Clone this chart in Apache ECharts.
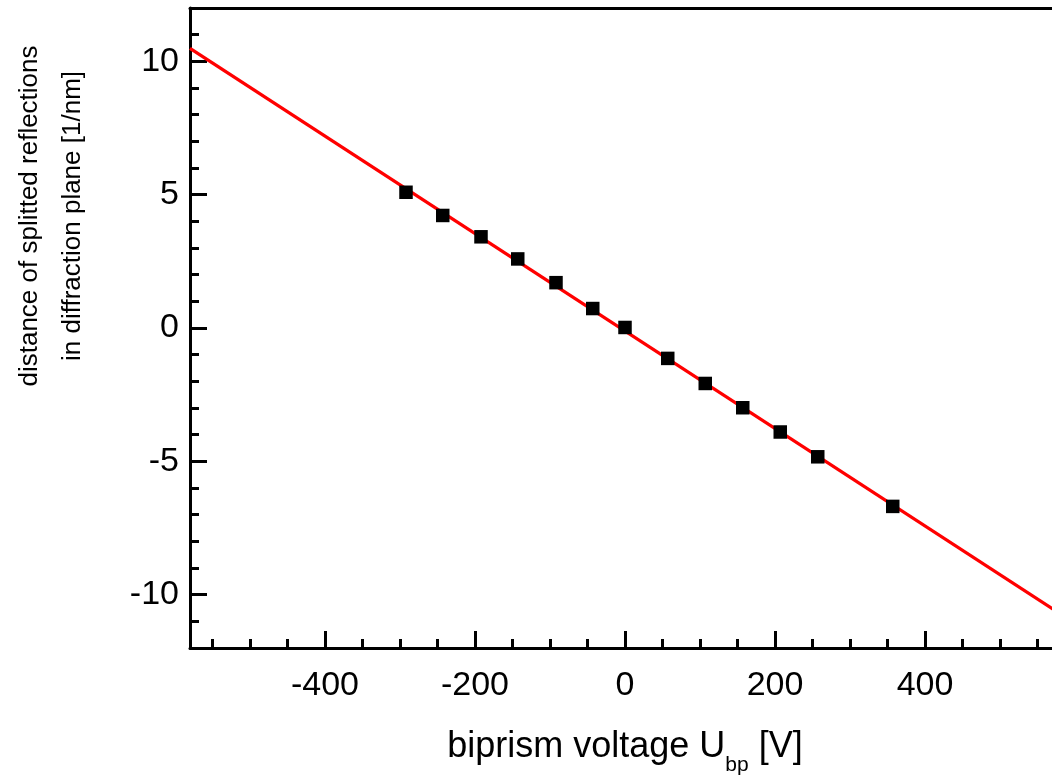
<!DOCTYPE html>
<html>
<head>
<meta charset="utf-8">
<script src="https://cdn.jsdelivr.net/npm/echarts@6/dist/echarts.min.js"></script>
<style>
html, body { margin: 0; padding: 0; background: #fff; overflow: hidden; }
#chart { width: 1060px; height: 778px; }
</style>
</head>
<body>
<div id="chart"></div>
<script>
// Measured data points
const voltage = [-292, -243, -192, -143, -92, -43, 0, 57, 107, 157, 207, 257, 357];
const distance = [5.09, 4.22, 3.42, 2.59, 1.70, 0.73, 0.02, -1.14, -2.08, -2.99, -3.90, -4.83, -6.69];
// Linear fit line endpoints
const fitX = [-580, 580];
const fitY = [10.49, -10.71];
// Ticks
const xMajorTicks = [-400, -200, 0, 200, 400];
const xMinorTicks = [-550, -500, -450, -350, -300, -250, -150, -100, -50, 50, 100, 150, 250, 300, 350, 450, 500, 550];
const yMajorTicks = [-10, -5, 0, 5, 10];
const yMinorTicks = [-11, -9, -8, -7, -6, -4, -3, -2, -1, 1, 2, 3, 4, 6, 7, 8, 9, 11];

const FONT = "'Liberation Sans', Arial, sans-serif";
const chart = echarts.init(document.getElementById('chart'), null, { renderer: 'canvas' });

const baseX = { type: 'value', min: -580, max: 580, gridIndex: 0, splitLine: { show: false } };
const baseY = { type: 'value', min: -12, max: 12, gridIndex: 0, splitLine: { show: false } };

chart.setOption({
  animation: false,
  backgroundColor: '#fff',
  grid: { left: 190, top: 8, right: 0, bottom: 130, containLabel: false, outerBoundsMode: 'none' },
  xAxis: [
    Object.assign({}, baseX, {
      position: 'bottom',
      name: '{m|biprism voltage U}{s|bp}{m| [V]}',
      nameLocation: 'middle',
      nameGap: 79,
      nameTextStyle: {
        rich: {
          m: { fontSize: 36, lineHeight: 40, fontFamily: FONT, color: '#000' },
          s: { fontSize: 21, lineHeight: 20, padding: [36, 0, 0, 0], fontFamily: FONT, color: '#000' }
        }
      },
      axisLine: { show: true, onZero: false, lineStyle: { color: '#000', width: 3 } },
      axisTick: { show: true, inside: true, length: 17, customValues: xMajorTicks, lineStyle: { color: '#000', width: 3 } },
      axisLabel: { show: true, customValues: xMajorTicks, fontSize: 34, fontFamily: FONT, color: '#000', margin: 21 }
    }),
    Object.assign({}, baseX, {
      position: 'bottom',
      axisLine: { show: false, onZero: false },
      axisTick: { show: true, inside: true, length: 9, customValues: xMinorTicks, lineStyle: { color: '#000', width: 3 } },
      axisLabel: { show: false }
    }),
    Object.assign({}, baseX, {
      position: 'top',
      axisLine: { show: true, onZero: false, lineStyle: { color: '#000', width: 3 } },
      axisTick: { show: false },
      axisLabel: { show: false }
    })
  ],
  yAxis: [
    Object.assign({}, baseY, {
      position: 'left',
      name: 'distance of splitted reflections\nin diffraction plane [1/nm]',
      nameLocation: 'middle',
      nameGap: 96,
      nameTextStyle: { fontSize: 26, lineHeight: 43, fontFamily: FONT, color: '#000', padding: [0, 0, 0, 224] },
      axisLine: { show: true, onZero: false, lineStyle: { color: '#000', width: 3 } },
      axisTick: { show: true, inside: true, length: 17, customValues: yMajorTicks, lineStyle: { color: '#000', width: 3 } },
      axisLabel: { show: true, customValues: yMajorTicks, fontSize: 34, fontFamily: FONT, color: '#000', margin: 11 }
    }),
    Object.assign({}, baseY, {
      position: 'left',
      axisLine: { show: false, onZero: false },
      axisTick: { show: true, inside: true, length: 9, customValues: yMinorTicks, lineStyle: { color: '#000', width: 3 } },
      axisLabel: { show: false }
    })
  ],
  series: [
    {
      name: 'fit',
      type: 'line',
      xAxisIndex: 0,
      yAxisIndex: 0,
      data: fitX.map((x, i) => [x, fitY[i]]),
      showSymbol: false,
      symbol: 'none',
      lineStyle: { color: '#ff0000', width: 3.3 },
      clip: true,
      z: 2
    },
    {
      name: 'data',
      type: 'scatter',
      xAxisIndex: 0,
      yAxisIndex: 0,
      data: voltage.map((x, i) => [x, distance[i]]),
      symbol: 'rect',
      symbolSize: 13.5,
      itemStyle: { color: '#000', opacity: 1 },
      z: 3
    }
  ]
});
</script>
</body>
</html>
